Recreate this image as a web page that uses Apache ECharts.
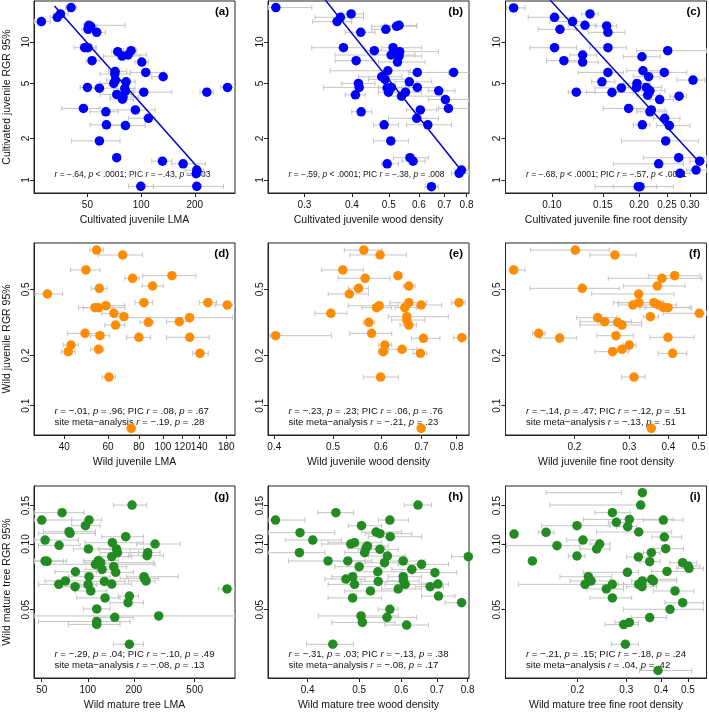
<!DOCTYPE html>
<html>
<head>
<meta charset="utf-8">
<script src="https://cdn.jsdelivr.net/npm/echarts@6/dist/echarts.min.js"></script>
<style>
html, body { margin: 0; padding: 0; background: #fff; }
#chart { width: 709px; height: 712px; }
</style>
</head>
<body>
<div id="chart"></div>
<script>
// each point: [trait, RGR, trait low, trait high]
var cultLma = [
  [27.6,14.06,25.3,30.9],[33.9,15.1,30.9,37.5],[35.3,15.97,32.2,39.1],[40.5,17.76,37.8,43.6],
  [50.9,13.2,47.5,81.3],[52.2,13.0,48.5,56.4],[50.4,12.36,46.5,55.2],[56.4,11.75,52.2,63.1],
  [48.3,9.09,42.1,55.2],[50.4,9.09,45.5,56.4],[53.1,7.32,49.1,58.9],[74,8.51,68.5,90.6],
  [78.2,7.91,61.5,98.7],[84.5,8.05,77.9,107.6],[87.9,8.65,79.6,94.6],[100.9,7.16,92.5,109.9],
  [71.5,6.12,65.6,83.1],[71.2,5.86,58.9,86.8],[106.2,6.02,86.8,133.4],[132.9,5.6,114.8,139.3],
  [71.8,5.30,64.2,86.8],[70.3,5.01,58.9,81.3],[82.4,5.15,74.6,92.5],[50,4.69,45.5,55.2],
  [58.4,4.63,50.7,69.9],[81,4.61,69.9,92.5],[81.7,4.41,74.6,90.6],[103.5,4.33,83.1,148.6],
  [233.6,4.33,214.2,254.6],[305,4.69,279.7,336.8],[73,4.17,58.9,88.6],[79.2,3.99,67,96.6],
  [78.6,3.85,67,90.6],[47.5,3.30,35.9,58.9],[63.4,3.12,51.8,74.6],[92.9,3.22,67,119.8],
  [109.9,2.80,84.9,119.8],[63.9,2.51,51.8,78.2],[81.7,2.48,67,105.3],[58.4,1.92,40.8,76.2],
  [73,1.45,71.5,76.2],[131.7,1.37,114.8,148.6],[172,1.31,148.6,228.6],[205.2,1.18,176.5,223.7],
  [203.5,1.11,180.4,223.7],[99.6,0.90,84.9,117.3],[205.2,0.90,117.3,289.6]
];
var cultWood = [
  [0.2525,17.76,0.2415,0.3138],[0.398,15.97,0.3762,0.429],[0.3732,15.1,0.320,0.429],[0.3657,14.06,0.315,0.3996],
  [0.491,12.36,0.451,0.504],[0.524,13.0,0.451,0.592],[0.532,13.2,0.489,0.592],[0.422,11.75,0.384,0.460],
  [0.380,9.09,0.3138,0.433],[0.513,9.09,0.479,0.610],[0.458,8.65,0.433,0.514],[0.534,8.51,0.504,0.675],
  [0.507,8.05,0.3615,0.586],[0.532,7.91,0.508,0.610],[0.4103,7.32,0.3615,0.460],[0.527,7.16,0.4696,0.623],
  [0.497,6.19,0.3507,0.569],[0.594,6.02,0.563,0.717],[0.740,6.02,0.717,0.817],[0.479,5.6,0.416,0.541],
  [0.489,5.36,0.442,0.563],[0.416,5.01,0.3762,0.460],[0.566,5.15,0.519,0.648],[0.418,4.69,0.3368,0.504],
  [0.495,4.65,0.4696,0.541],[0.508,4.69,0.4696,0.563],[0.499,4.33,0.4696,0.563],[0.594,4.69,0.552,0.661],
  [0.676,4.43,0.635,0.746],[0.553,4.33,0.489,0.610],[0.4086,4.14,0.384,0.433],[0.540,4.05,0.499,0.689],
  [0.704,3.83,0.635,0.809],[0.605,3.22,0.557,0.668],[0.717,3.30,0.675,0.817],[0.423,3.12,0.3996,0.451],
  [0.592,2.80,0.499,0.675],[0.486,2.51,0.456,0.530],[0.633,2.51,0.557,0.731],[0.506,1.92,0.456,0.563],
  [0.568,1.45,0.514,0.635],[0.579,1.37,0.541,0.623],[0.495,1.31,0.479,0.530],[0.776,1.18,0.746,0.826],
  [0.765,1.118,0.731,0.809],[0.647,0.895,0.623,0.675]
];
var cultRoot = [
  [0.0737,17.66,0.0697,0.0807],[0.1021,15.1,0.0828,0.1185],[0.1179,14.06,0.0984,0.1301],[0.1354,15.97,0.1267,0.1447],
  [0.1301,13.2,0.1139,0.1428],[0.1066,12.36,0.0897,0.1217],[0.1546,13.07,0.1409,0.1674],[0.1562,11.75,0.1336,0.1789],
  [0.1021,9.09,0.0839,0.1217],[0.1562,9.09,0.1354,0.1813],[0.2514,8.65,0.1963,0.343],[0.2048,7.82,0.1766,0.2364],
  [0.1277,8.05,0.1154,0.1428],[0.1277,7.16,0.1124,0.1447],[0.1100,7.32,0.0958,0.125],[0.1562,6.02,0.1233,0.1766],
  [0.2065,6.19,0.1813,0.2396],[0.2447,6.02,0.2212,0.2924],[0.2160,5.6,0.1911,0.2364],[0.3076,5.30,0.2701,0.3384],
  [0.1489,5.15,0.1372,0.1652],[0.1968,5.01,0.1766,0.2183],[0.1963,4.69,0.1766,0.2212],[0.2120,4.69,0.1911,0.2396],
  [0.1738,4.65,0.1409,0.2016],[0.2183,4.43,0.1989,0.2460],[0.1214,4.33,0.1139,0.1409],[0.1613,4.31,0.1318,0.1911],
  [0.2143,4.12,0.1963,0.2364],[0.2751,4.05,0.2561,0.2924],[0.2358,3.83,0.2183,0.2630],[0.1842,3.30,0.1505,0.2212],
  [0.2206,3.22,0.1963,0.2460],[0.2183,3.12,0.1963,0.2494],[0.2454,2.80,0.2242,0.2773],[0.2054,2.51,0.1911,0.2183],
  [0.2547,2.48,0.2302,0.3003],[0.2474,1.92,0.1742,0.3209],[0.2744,1.45,0.2070,0.343],[0.2339,1.31,0.1630,0.2848],
  [0.3243,1.37,0.3003,0.343],[0.3150,1.18,0.2924,0.343],[0.2773,1.118,0.2561,0.3003],[0.1989,0.895,0.1409,0.2630],
  [0.2016,0.895,0.1630,0.2302]
];
var wildLma = [
  [54.0,0.861,50.8,57.5],[68.8,0.804,54.8,82.8],[48.9,0.6535,42.4,55.7],[75.4,0.5823,70.2,80.2],
  [108.7,0.604,82.8,135.8],[55.4,0.507,51.4,59.6],[90.8,0.5236,82.3,100.3],[34.2,0.4688,30.5,39.4],
  [83.8,0.4157,77.1,90.8],[151.8,0.4157,140.1,164.6],[181.7,0.4026,162.1,195.1],[53.2,0.388,45.6,63.0],
  [55.0,0.388,47.7,70.2],[58.9,0.3989,52.4,70.2],[63.4,0.3587,56.6,69.2],[69.6,0.3425,65.0,71.4],
  [87.3,0.3167,80.8,91.4],[116.4,0.3196,103.4,128.4],[128.1,0.3378,70.2,190.9],[64.4,0.3052,58.3,70.2],
  [48.5,0.272,41.3,55.7],[55.7,0.2634,51.1,60.8],[80.0,0.2574,71.4,89.2],[128.1,0.2574,103.4,153.7],
  [42.6,0.2315,39.6,45.6],[55.0,0.218,51.1,57.5],[41.5,0.2111,39.0,44.2],[141.0,0.2063,131.7,152.3],
  [60.6,0.1487,56.9,64.4],[74.5,0.0731,74.5,74.5]
];
var wildWood = [
  [0.562,0.861,0.522,0.603],[0.598,0.804,0.533,0.661],[0.519,0.6535,0.479,0.561],[0.640,0.604,0.633,0.645],
  [0.565,0.5823,0.510,0.621],[0.667,0.5236,0.653,0.683],[0.551,0.507,0.530,0.572],[0.532,0.4688,0.491,0.572],
  [0.807,0.4157,0.785,0.826],[0.667,0.4157,0.621,0.714],[0.699,0.4026,0.657,0.756],[0.596,0.3989,0.530,0.641],
  [0.590,0.388,0.558,0.625],[0.657,0.388,0.633,0.687],[0.496,0.3587,0.4668,0.527],[0.662,0.3425,0.617,0.775],
  [0.662,0.3271,0.625,0.709],[0.573,0.3167,0.561,0.586],[0.667,0.3052,0.645,0.687],[0.402,0.2634,0.3935,0.497],
  [0.579,0.272,0.533,0.625],[0.705,0.2539,0.674,0.751],[0.816,0.2562,0.790,0.8415],[0.609,0.2315,0.594,0.625],
  [0.650,0.218,0.617,0.687],[0.605,0.2111,0.594,0.617],[0.697,0.2063,0.678,0.714],[0.599,0.1487,0.561,0.641],
  [0.699,0.0731,0.699,0.699]
];
var wildRoot = [
  [0.2015,0.861,0.1449,0.2588],[0.2698,0.804,0.2245,0.3151],[0.1279,0.6535,0.1251,0.1390],[0.4190,0.604,0.3451,0.5050],
  [0.3817,0.5823,0.2569,0.5114],[0.3688,0.5236,0.2869,0.4523],[0.2121,0.507,0.1442,0.2786],[0.3214,0.4688,0.2273,0.4170],
  [0.3599,0.4157,0.2665,0.3855],[0.3221,0.4157,0.2766,0.3855],[0.3081,0.4026,0.2766,0.3286],[0.3724,0.4026,0.3166,0.4252],
  [0.3855,0.3898,0.3245,0.4693],[0.3990,0.388,0.3368,0.4752],[0.5026,0.3587,0.3855,0.5305],[0.3502,0.3425,0.3326,0.3715],
  [0.2375,0.3378,0.2035,0.2731],[0.2500,0.3196,0.2085,0.3051],[0.2752,0.3167,0.2387,0.3286],[0.2841,0.3052,0.2085,0.3286],
  [0.1538,0.272,0.1471,0.1611],[0.1795,0.255,0.1553,0.2035],[0.2718,0.2634,0.2358,0.3089],[0.3990,0.2574,0.3494,0.4834],
  [0.2999,0.2315,0.2869,0.3151],[0.2652,0.2111,0.2329,0.2977],[0.2841,0.218,0.2600,0.2999],[0.4129,0.2063,0.3715,0.4580],
  [0.3105,0.1487,0.2834,0.3368],[0.3528,0.0731,0.3528,0.3528]
];
var treeLma = [
  [194.7,0.1509,147.0,242.8],[67.9,0.1392,44.6,94.6],[50.0,0.1288,44.6,78.5],[101.9,0.1288,78.5,123.4],
  [96.5,0.1213,78.5,120.3],[75.4,0.1139,51.3,112.2],[76.6,0.1119,47.6,112.2],[52.6,0.1043,44.6,86.8],
  [177.0,0.1080,123.4,230.9],[64.9,0.0986,47.6,89.0],[144.8,0.1014,96.0,230.9],[275.3,0.1,208.9,400.9],
  [100.9,0.0949,80.5,139.8],[153.8,0.0949,117.3,230.9],[156.2,0.0913,120.3,214.2],[246.5,0.0913,188.9,296.8],
  [244.0,0.0884,184.2,312.0],[143.4,0.0875,117.3,193.7],[52.6,0.0836,44.6,72.8],[54.2,0.0833,44.6,69.3],
  [117.3,0.0839,93.6,158.5],[121.5,0.0821,96.0,268.5],[112.2,0.0807,51.3,275.3],[147.8,0.0787,120.3,179.7],
  [124.0,0.0765,96.0,154.6],[83.0,0.0746,61.1,114.4],[152.3,0.0742,120.3,198.6],[101.9,0.0708,74.7,139.8],
  [71.4,0.0677,52.6,100.9],[128.4,0.0674,100.4,175.3],[64.6,0.0653,47.6,89.0],[233.2,0.0708,179.7,391.0],
  [234.4,0.0696,162.5,289.4],[240.4,0.0677,184.2,275.3],[143.4,0.0655,108.8,193.7],[100.4,0.0651,74.7,114.4],
  [82.6,0.0637,65.9,103.5],[104.5,0.0609,82.6,133.0],[813.3,0.0622,714.0,917.2],[129.7,0.0566,84.7,162.5],
  [187.1,0.0577,158.5,214.2],[183.3,0.0538,139.8,230.9],[114.4,0.0504,93.6,139.8],[290.9,0.0468,44.6,917.2],
  [150.0,0.0461,108.8,198.6],[114.4,0.0441,47.6,188.9],[114.4,0.0428,74.7,162.5],[187.1,0.0347,147.0,230.9]
];
var treeWood = [
  [0.645,0.1509,0.608,0.684],[0.452,0.1392,0.418,0.488],[0.348,0.1288,0.337,0.395],[0.571,0.1288,0.543,0.619],
  [0.505,0.1213,0.477,0.551],[0.538,0.1135,0.505,0.601],[0.547,0.1115,0.513,0.628],[0.387,0.1127,0.337,0.450],
  [0.409,0.1043,0.363,0.463],[0.572,0.1080,0.520,0.655],[0.482,0.1,0.425,0.528],[0.490,0.1014,0.437,0.551],
  [0.518,0.0979,0.484,0.567],[0.515,0.0955,0.477,0.559],[0.512,0.0913,0.470,0.567],[0.547,0.0945,0.498,0.592],
  [0.386,0.0913,0.337,0.431],[0.565,0.0881,0.520,0.610],[0.437,0.0836,0.368,0.513],[0.476,0.0836,0.431,0.528],
  [0.558,0.0821,0.513,0.592],[0.605,0.0836,0.551,0.665],[0.655,0.0807,0.592,0.736],[0.802,0.0875,0.746,0.806],
  [0.500,0.0787,0.450,0.559],[0.628,0.0765,0.576,0.694],[0.542,0.0746,0.491,0.601],[0.694,0.0739,0.628,0.763],
  [0.472,0.0691,0.431,0.513],[0.486,0.0708,0.444,0.535],[0.543,0.0674,0.504,0.592],[0.605,0.0708,0.567,0.655],
  [0.606,0.0677,0.564,0.648],[0.490,0.0653,0.437,0.551],[0.610,0.0653,0.559,0.665],[0.703,0.0655,0.655,0.736],
  [0.680,0.0637,0.637,0.720],[0.592,0.0622,0.551,0.655],[0.525,0.0609,0.470,0.584],[0.486,0.0566,0.437,0.551],
  [0.705,0.0577,0.655,0.757],[0.779,0.0538,0.725,0.806],[0.571,0.0502,0.543,0.592],[0.504,0.0468,0.419,0.592],
  [0.564,0.0461,0.513,0.641],[0.507,0.0437,0.444,0.584],[0.614,0.0425,0.559,0.675],[0.446,0.0347,0.398,0.488]
];
var treeRoot = [
  [0.3427,0.1719,0.1543,0.2888],[0.3380,0.1509,0.1595,0.3288],[0.2673,0.1392,0.2315,0.3094],[0.3077,0.1297,0.2102,0.4430],
  [0.4078,0.1288,0.3456,0.4813],[0.2763,0.1257,0.2586,0.3010],[0.1994,0.1213,0.1488,0.2622],[0.3035,0.1201,0.2771,0.3270],
  [0.1184,0.1111,0.1184,0.1184],[0.1543,0.1131,0.1448,0.1649],[0.3325,0.1135,0.2347,0.4369],[0.2096,0.1043,0.1831,0.2413],
  [0.4111,0.1077,0.3702,0.4747],[0.1690,0.0983,0.1114,0.2045],[0.2406,0.1,0.2221,0.2622],[0.2347,0.0949,0.2045,0.2622],
  [0.4157,0.0952,0.3753,0.4813],[0.3692,0.0913,0.3456,0.3967],[0.1994,0.0881,0.1856,0.2131],[0.3316,0.0872,0.3010,0.3702],
  [0.1378,0.0836,0.1378,0.1378],[0.3641,0.083,0.3362,0.3967],[0.4786,0.0821,0.4309,0.5375],[0.5003,0.0793,0.4617,0.5525],
  [0.5044,0.0774,0.4554,0.5680],[0.4203,0.0749,0.3702,0.4948],[0.3027,0.0742,0.2102,0.3316],[0.2191,0.0708,0.1732,0.2658],
  [0.2240,0.0677,0.1882,0.2622],[0.2131,0.0653,0.1227,0.2809],[0.2673,0.0653,0.2161,0.2928],[0.3427,0.0677,0.3137,0.3859],
  [0.3702,0.0689,0.3343,0.4554],[0.3753,0.0677,0.3362,0.4554],[0.3325,0.0653,0.2928,0.3753],[0.3418,0.0637,0.3010,0.3859],
  [0.2543,0.0622,0.2161,0.2928],[0.2673,0.0566,0.2221,0.3137],[0.4491,0.0609,0.3753,0.5257],[0.4309,0.0502,0.2928,0.5680],
  [0.4786,0.0538,0.4134,0.5680],[0.3641,0.046,0.3137,0.4191],[0.3077,0.0437,0.2733,0.3316],[0.2936,0.0427,0.2515,0.3316],
  [0.2977,0.0347,0.2658,0.3316],[0.3902,0.0263,0.3343,0.5157]
];

// fitted lines (end points) for the cultivated panels
var fitA = [[32.7, 18.27], [218.9, 1.143]];
var fitB = [[0.3402, 20.2], [0.774, 1.176]];
var fitC = [[0.0984, 20.2], [0.3252, 1.33]];

// axis extents and ticks
var xRange = [[25.1, 336], [0.2408, 0.812], [0.0691, 0.3424],
              [30.2, 195.2], [0.3905, 0.8385], [0.1204, 0.530],
              [44.5, 917], [0.3369, 0.8044], [0.1103, 0.583]];
var xTicks = [[50, 100, 200], [0.3, 0.4, 0.5, 0.6, 0.7, 0.8], [0.10, 0.15, 0.20, 0.25, 0.30],
              [40, 60, 80, 100, 120, 140, 180], [0.4, 0.5, 0.6, 0.7, 0.8], [0.2, 0.3, 0.4, 0.5],
              [50, 100, 200, 500], [0.4, 0.5, 0.6, 0.7, 0.8], [0.2, 0.3, 0.4, 0.5]];
var xTickLabels = [['50', '100', '200'], ['0.3', '0.4', '0.5', '0.6', '0.7', '0.8'], ['0.10', '0.15', '0.20', '0.25', '0.30'],
                   ['40', '60', '80', '100', '120', '140', '180'], ['0.4', '0.5', '0.6', '0.7', '0.8'], ['0.2', '0.3', '0.4', '0.5'],
                   ['50', '100', '200', '500'], ['0.4', '0.5', '0.6', '0.7', '0.8'], ['0.2', '0.3', '0.4', '0.5']];
var yRange = [[0.805, 19.82], [0.0667, 0.949], [0.0243, 0.1845]];
var yTicks = [[1, 2, 5, 10], [0.1, 0.2, 0.5], [0.05, 0.10, 0.15]];
var yTickLabels = [['1', '2', '5', '10'], ['0.1', '0.2', '0.5'], ['0.05', '0.10', '0.15']];

var xNames = ['Cultivated juvenile LMA', 'Cultivated juvenile wood density', 'Cultivated juvenile fine root density',
              'Wild juvenile LMA', 'Wild juvenile wood density', 'Wild juvenile fine root density',
              'Wild mature tree LMA', 'Wild mature tree wood density', 'Wild mature tree fine root density'];
var yNames = ['Cultivated juvenile RGR 95%', 'Wild juvenile RGR 95%', 'Wild mature tree RGR 95%'];
var panelTags = ['(a)', '(b)', '(c)', '(d)', '(e)', '(f)', '(g)', '(h)', '(i)'];
var notes = [
  ['{i|r} = \u2212.64, {i|p} < .0001; PIC {i|r} = \u2212.43, {i|p} = .003'],
  ['{i|r} = \u2212.59, {i|p} < .0001; PIC {i|r} = \u2212.38, {i|p} = .008'],
  ['{i|r} = \u2212.68, {i|p} < .0001; PIC {i|r} = \u2212.57, {i|p} < .0001'],
  ['{i|r} = \u2212.01, {i|p} = .96; PIC {i|r} = .08, {i|p} = .67', 'site meta\u2212analysis {i|r} = \u2212.19, {i|p} = .28'],
  ['{i|r} = \u2212.23, {i|p} = .23; PIC {i|r} = .06, {i|p} = .76', 'site meta\u2212analysis {i|r} = \u2212.21, {i|p} = .23'],
  ['{i|r} = \u2212.14, {i|p} = .47; PIC {i|r} = \u2212.12, {i|p} = .51', 'site meta\u2212analysis {i|r} = \u2212.13, {i|p} = .51'],
  ['{i|r} = \u2212.29, {i|p} = .04; PIC {i|r} = \u2212.10, {i|p} = .49', 'site meta\u2212analysis {i|r} = \u2212.08, {i|p} = .13'],
  ['{i|r} = \u2212.31, {i|p} = .03; PIC {i|r} = \u2212.13, {i|p} = .38', 'site meta\u2212analysis {i|r} = \u2212.08, {i|p} = .17'],
  ['{i|r} = \u2212.21, {i|p} = .15; PIC {i|r} = \u2212.18, {i|p} = .24', 'site meta\u2212analysis {i|r} = .04, {i|p} = .42']
];

var panelData = [cultLma, cultWood, cultRoot, wildLma, wildWood, wildRoot, treeLma, treeWood, treeRoot];
var fits = [fitA, fitB, fitC];
var rowColors = ['#0000FF', '#FF8C00', '#228B22'];

var FONT = '"Liberation Sans", Arial, sans-serif';
var colLeft = [34, 268, 505.5];
var rowTop = [1, 243, 486];
var W = 201, H = 192;
var noteSize = [8.5, 9.6, 9.6];

function lg(v) { return Math.log(v) / Math.LN10; }

function tickFormatter(ticks, labels) {
  var lt = ticks.map(lg);
  return function (v) {
    var best = 0;
    for (var k = 1; k < lt.length; k++) {
      if (Math.abs(lt[k] - v) < Math.abs(lt[best] - v)) best = k;
    }
    return labels[best];
  };
}

var grids = [], xAxes = [], yAxes = [], series = [], graphics = [];

for (var i = 0; i < 9; i++) {
  var col = i % 3, row = Math.floor(i / 3);
  grids.push({
    left: colLeft[col], top: rowTop[row], width: W, height: H,
    show: true, borderColor: '#222', borderWidth: 1,
    containLabel: false, outerBoundsMode: 'none'
  });

  xAxes.push({
    type: 'value', gridIndex: i, position: 'bottom',
    min: lg(xRange[i][0]), max: lg(xRange[i][1]),
    name: xNames[i], nameLocation: 'middle', nameGap: 22,
    nameTextStyle: { fontSize: 10.5, fontFamily: FONT, color: '#111' },
    axisLine: { show: true, onZero: false, lineStyle: { color: '#222', width: 1 } },
    axisTick: { show: true, length: 4, customValues: xTicks[i].map(lg), lineStyle: { color: '#222' } },
    axisLabel: {
      customValues: xTicks[i].map(lg), formatter: tickFormatter(xTicks[i], xTickLabels[i]),
      margin: 7, fontSize: 10, fontFamily: FONT, color: '#111'
    },
    splitLine: { show: false }
  });

  var yAx = {
    type: 'value', gridIndex: i, position: 'left',
    min: lg(yRange[row][0]), max: lg(yRange[row][1]),
    axisLine: { show: true, onZero: false, lineStyle: { color: '#222', width: 1 } },
    axisTick: { show: true, length: 4, customValues: yTicks[row].map(lg), lineStyle: { color: '#222' } },
    axisLabel: {
      customValues: yTicks[row].map(lg), formatter: tickFormatter(yTicks[row], yTickLabels[row]),
      rotate: 90, margin: 3, fontSize: 10, fontFamily: FONT, color: '#111'
    },
    splitLine: { show: false }
  };
  if (col === 0) {
    yAx.name = yNames[row];
    yAx.nameLocation = 'middle';
    yAx.nameGap = 21;
    yAx.nameTextStyle = { fontSize: 10.5, fontFamily: FONT, color: '#111' };
  }
  yAxes.push(yAx);

  var pts = panelData[i];
  series.push({
    type: 'custom', xAxisIndex: i, yAxisIndex: i, z: 1, silent: true, clip: true,
    data: pts.map(function (d) { return [lg(d[0]), lg(d[1]), lg(d[2]), lg(d[3])]; }),
    encode: { x: 0, y: 1 },
    renderItem: function (params, api) {
      var y = api.value(1);
      var a = api.coord([api.value(2), y]);
      var b = api.coord([api.value(3), y]);
      var h = 2.5;
      var st = { stroke: '#C4C4C4', lineWidth: 1 };
      return {
        type: 'group',
        children: [
          { type: 'line', shape: { x1: a[0], y1: a[1], x2: b[0], y2: b[1] }, style: st },
          { type: 'line', shape: { x1: a[0], y1: a[1] - h, x2: a[0], y2: a[1] + h }, style: st },
          { type: 'line', shape: { x1: b[0], y1: b[1] - h, x2: b[0], y2: b[1] + h }, style: st }
        ]
      };
    }
  });
  series.push({
    type: 'scatter', xAxisIndex: i, yAxisIndex: i, z: 3, silent: true,
    symbolSize: 9.5,
    itemStyle: { color: rowColors[row], opacity: 1 },
    data: pts.map(function (d) { return [lg(d[0]), lg(d[1])]; })
  });
  if (row === 0) {
    series.push({
      type: 'line', xAxisIndex: i, yAxisIndex: i, z: 4, silent: true, clip: true,
      showSymbol: false, symbol: 'none',
      lineStyle: { color: '#0000CD', width: 1.5 },
      data: fits[i].map(function (d) { return [lg(d[0]), lg(d[1])]; })
    });
  }

  // panel tag
  graphics.push({
    type: 'text', x: colLeft[col] + W - 6, y: rowTop[row] + 11, silent: true,
    style: {
      text: panelTags[i], align: 'right', verticalAlign: 'middle',
      fontSize: 11.5, fontWeight: 'bold', fontFamily: FONT, fill: '#000'
    }
  });
  // statistics text
  var lines = notes[i];
  var fs = noteSize[row];
  var baseY = row === 0 ? rowTop[row] + 174 : rowTop[row] + 168;
  for (var n = 0; n < lines.length; n++) {
    graphics.push({
      type: 'text', x: colLeft[col] + 20.5, y: baseY + n * 11.8, silent: true,
      style: {
        text: lines[n], align: 'left', verticalAlign: 'middle',
        fontSize: fs, fontFamily: FONT, fill: '#111',
        rich: { i: { fontSize: fs, fontFamily: FONT, fontStyle: 'italic', fill: '#111' } }
      }
    });
  }
}

var chart = echarts.init(document.getElementById('chart'), null, { renderer: 'canvas' });
chart.setOption({
  animation: false,
  backgroundColor: '#fff',
  textStyle: { fontFamily: FONT },
  grid: grids,
  xAxis: xAxes,
  yAxis: yAxes,
  series: series,
  graphic: graphics
});
</script>
</body>
</html>
